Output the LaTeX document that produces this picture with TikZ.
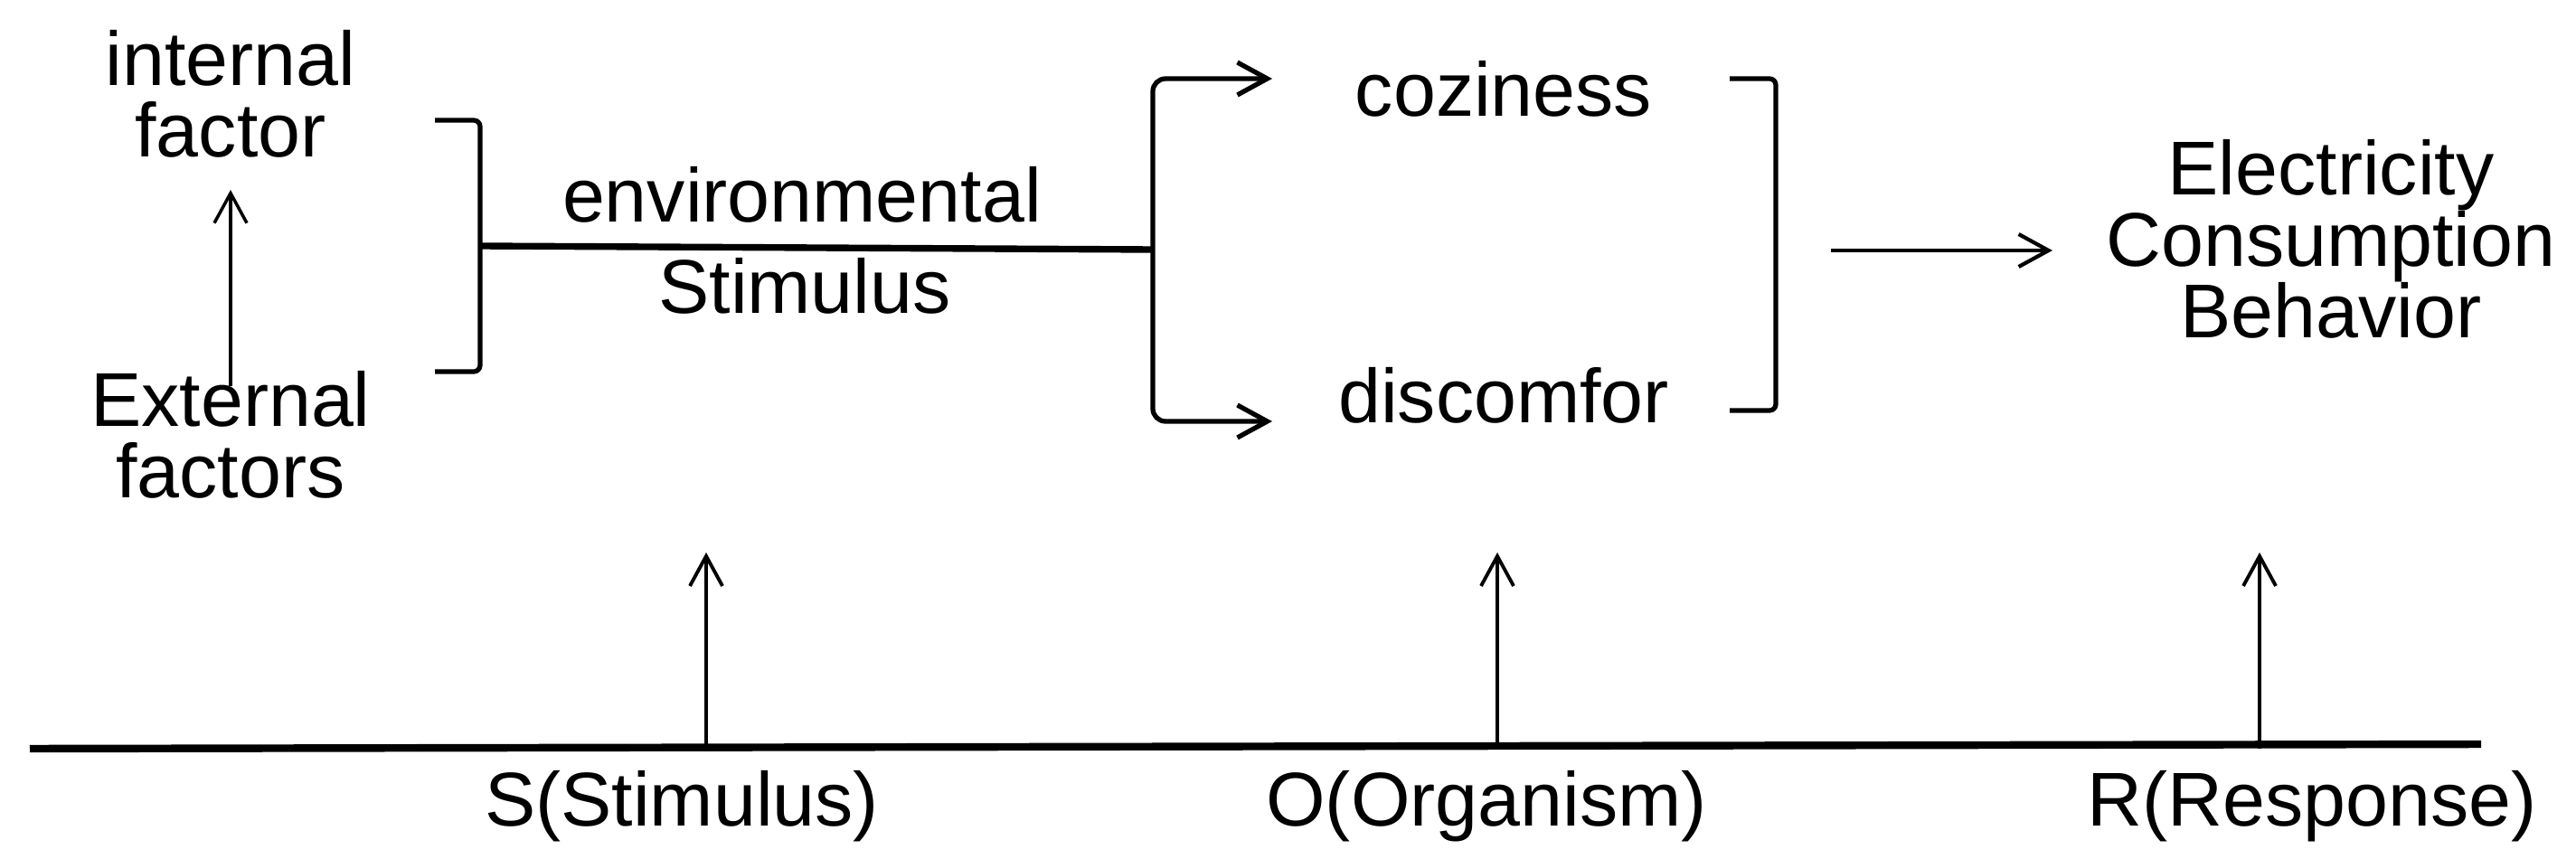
\documentclass[tikz,border=0pt]{standalone}
\usepackage{fontspec}
\setmainfont{Liberation Sans}
\usetikzlibrary{arrows.meta}

\begin{document}
\begin{tikzpicture}[>={Straight Barb[length=3.3mm,width=3.6mm]},
  lbl/.style={font=\fontsize{24}{22.5}\selectfont, inner sep=0pt, align=center}]
\useasboundingbox (0,0) rectangle (28.49,9.49);
% texts
\node [lbl, anchor=north] (internal) at (2.55,9.16) {internal\\factor};
\node [lbl, anchor=north] (external) at (2.55,5.39) {External\\factors};
\node [lbl, anchor=base] (envir) at (8.87,7.03) {environmental};
\node [lbl, anchor=base] (stim) at (8.90,6.03) {Stimulus};
\node [lbl, anchor=base] (cozy) at (16.63,8.20) {coziness};
\node [lbl, anchor=base] (discomf) at (16.63,4.82) {discomfor};
\node [lbl, anchor=north] (behav) at (25.78,7.95) {Electricity\\Consumption\\Behavior};
\node [lbl, anchor=base] (S) at (7.54,0.36) {S(Stimulus)};
\node [lbl, anchor=base] (O) at (16.44,0.36) {O(Organism)};
\node [lbl, anchor=base] (R) at (25.57,0.36) {R(Response)};
% points
\coordinate (extup) at (2.55,5.22);
\coordinate (intdown) at (2.55,7.39);
\coordinate (brtop) at (4.81,8.16);
\coordinate (brbot) at (4.81,5.38);
\coordinate (brmid) at (5.31,6.77);
\coordinate (fork) at (12.75,6.73);
\coordinate (cozyin) at (14.07,8.62);
\coordinate (discin) at (14.07,4.83);
\coordinate (rbtop) at (19.13,8.62);
\coordinate (rbbot) at (19.13,4.95);
\coordinate (resfrom) at (20.25,6.72);
\coordinate (resto) at (22.70,6.72);
\coordinate (axisL) at (0.33,1.21);
\coordinate (axisR) at (27.44,1.26);
\coordinate (Sup) at (7.81,3.38);
\coordinate (Oup) at (16.56,3.38);
\coordinate (Rup) at (24.99,3.38);
% stimulus
\draw [line width=1pt,->] (extup) -- (intdown);
\draw [line width=1.5pt, rounded corners=2pt] (brtop) -| (brmid) |- (brbot);
\draw [line width=2.1pt] (brmid) -- (fork);
% organism
\draw [line width=1.5pt,->, rounded corners=4pt] (fork) |- (cozyin);
\draw [line width=1.5pt,->, rounded corners=4pt] (fork) |- (discin);
\draw [line width=1.5pt, rounded corners=2pt] (rbtop) -| (19.64,6.8) |- (rbbot);
% response
\draw [line width=1.2pt,->] (resfrom) -- (resto);
% axis
\draw [line width=2.4pt] (axisL) -- (axisR);
\draw [line width=1.1pt,->] (axisL -| Sup) -- (Sup);
\draw [line width=1.1pt,->] (axisL -| Oup) -- (Oup);
\draw [line width=1.1pt,->] (axisL -| Rup) -- (Rup);
\end{tikzpicture}
\end{document}
